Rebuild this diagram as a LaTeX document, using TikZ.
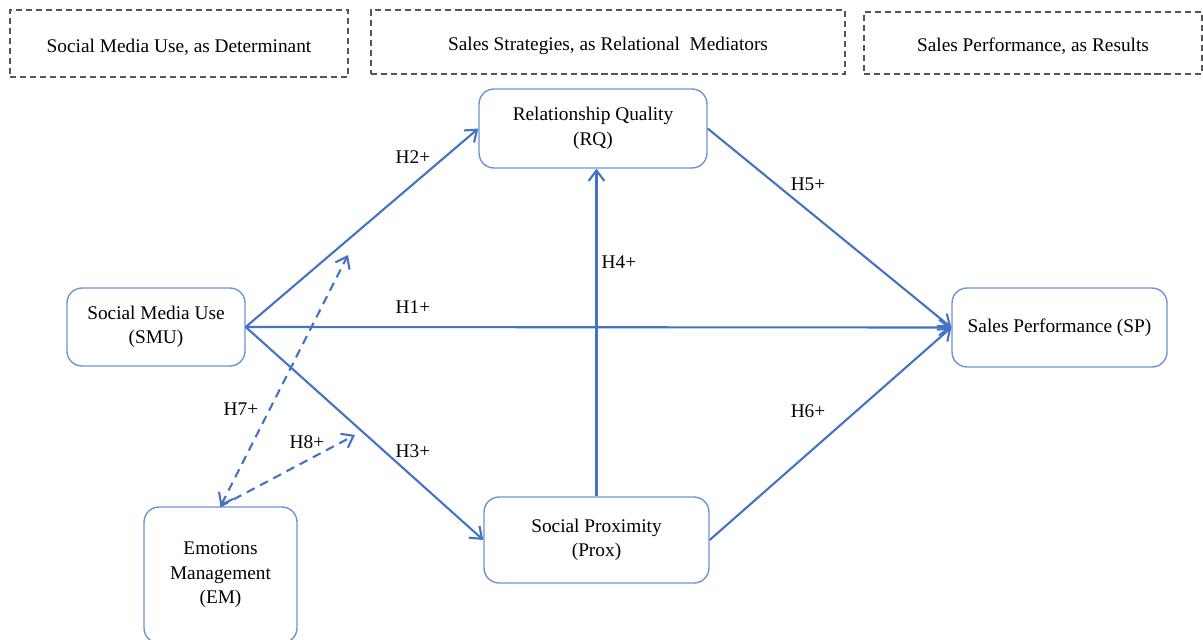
\documentclass[tikz,border=0pt]{standalone}
\usepackage{fontspec}
\setmainfont{Liberation Serif}
\usepackage{xcolor}
\usetikzlibrary{arrows.meta}
\definecolor{linkblue}{HTML}{4472C4}
\definecolor{boxblue}{HTML}{7093D3}
\definecolor{framegray}{HTML}{555555}

\tikzset{
	construct/.style={draw=boxblue, rounded corners=0.3cm, align=center, line width=0.8pt},
	header/.style={draw=framegray, dash pattern=on 3.5pt off 2.2pt, line width=0.8pt, text height=10pt, text depth=0pt},
	link/.style={draw=linkblue, line width=1.2pt, -{Straight Barb[length=6pt,width=9pt]}},
	moderator/.style={link, dash pattern=on 5pt off 3.5pt},
	hyp/.style={inner sep=1pt},
}

\begin{document}
\begin{tikzpicture}[x=0.02cm, y=-0.02cm]
	\fontsize{11}{14}\selectfont
	\useasboundingbox (0,0) rectangle (1203,639);
	% column headers
	\node[header, minimum width=6.76cm, minimum height=1.34cm] (colSMU) at (179,43.5) {Social Media Use, as Determinant};
	\node[header, minimum width=9.48cm, minimum height=1.28cm] (colMed) at (608,42) {Sales Strategies, as Relational\ \ Mediators};
	\node[header, minimum width=6.76cm, minimum height=1.24cm] (colSP) at (1033,43) {Sales Performance, as Results};

	% constructs
	\node[construct, minimum width=4.56cm, minimum height=1.58cm] (RQ) at (593,128.5) {Relationship Quality\\(RQ)};
	\node[construct, minimum width=3.56cm, minimum height=1.56cm] (SMU) at (156,327) {Social Media Use\\(SMU)};
	\node[construct, minimum width=4.30cm, minimum height=1.58cm] (SP) at (1059.5,327.5) {Sales Performance (SP)};
	\node[construct, minimum width=4.50cm, minimum height=1.72cm] (Prox) at (596.5,540) {Social Proximity\\(Prox)};
	\node[construct, minimum width=3.06cm, minimum height=2.72cm] (EM) at (220.5,575) {Emotions\\Management\\(EM)};

	% paths
	\draw[link] (SMU.east) -- (RQ.west);
	\draw[link] (SMU.east) -- (SP.west);
	\draw[link] (SMU.east) -- (Prox.west);
	\draw[link] (RQ.east) -- (SP.west);
	\draw[link] (Prox.east) -- (SP.west);
	\draw[link] (Prox.north) -- (Prox.north |- RQ.south);

	% moderation by EM
	\coordinate (modRQ) at (348,255);
	\coordinate (modProx) at (355,435);
	\draw[moderator, {Straight Barb[length=6pt,width=9pt]}-{Straight Barb[length=6pt,width=9pt]}] (EM.north) -- (modRQ);
	\draw[moderator] (EM.north) -- (modProx);

	% hypotheses
	\node[hyp] (H1) at (413,307) {H1+};
	\node[hyp] (H2) at (413,157) {H2+};
	\node[hyp] (H3) at (413,451) {H3+};
	\node[hyp] (H4) at (619,262) {H4+};
	\node[hyp] (H5) at (808,184) {H5+};
	\node[hyp] (H6) at (808,411) {H6+};
	\node[hyp] (H7) at (241,409) {H7+};
	\node[hyp] (H8) at (307,442) {H8+};
\end{tikzpicture}
\end{document}
